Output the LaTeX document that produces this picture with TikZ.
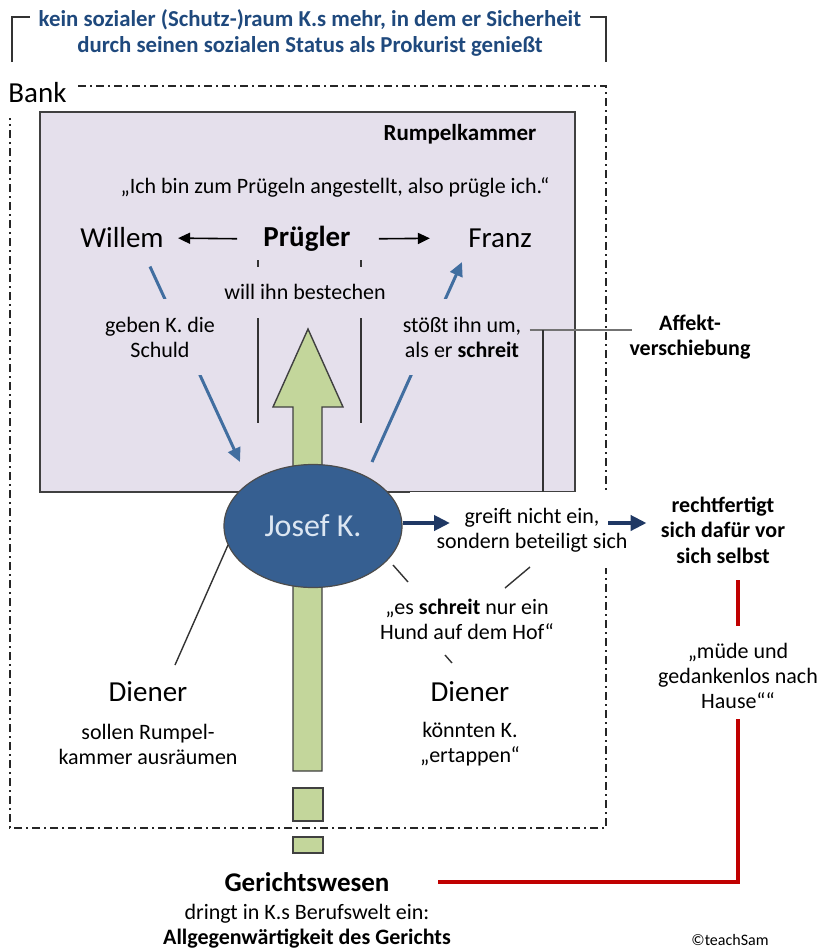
\documentclass[tikz,border=0pt]{standalone}
\usepackage{fontspec}
\setmainfont{Carlito}
\definecolor{titleblue}{RGB}{31, 73, 125}
\definecolor{lavbg}{RGB}{229, 224, 236}
\definecolor{arrowgreen}{RGB}{195, 214, 155}
\definecolor{kblue}{RGB}{54, 95, 145}
\definecolor{klight}{RGB}{220, 230, 242}
\definecolor{lineblue}{RGB}{65, 110, 160}
\definecolor{darkblue}{RGB}{31, 56, 100}
\definecolor{courtred}{RGB}{192, 0, 0}
\usetikzlibrary{arrows.meta, shapes.geometric, positioning}

\begin{document}
\begin{tikzpicture}[x=0.5pt, y=-0.5pt,
  txt/.style={font=\fontsize{11}{12.5}\selectfont, align=center, inner sep=1pt},
  txtb/.style={txt, font=\fontsize{11.5}{12.8}\selectfont\bfseries},
  big/.style={font=\fontsize{14.5}{17}\selectfont, inner sep=1pt},
  kline/.style={draw=black!80, line width=0.7pt},
  dashframe/.style={draw=black!85, line width=0.75pt, dash pattern=on 4pt off 2pt on 1pt off 2pt},
  bluearr/.style={draw=lineblue, line width=1.5pt, -{Triangle[length=7pt, width=6.5pt]}},
  blueline/.style={draw=lineblue, line width=1.5pt},
  darkarr/.style={draw=darkblue, line width=2pt, -{Triangle[length=8pt, width=7.5pt]}},
  blkarr/.style={draw=black, line width=0.8pt, -{Triangle[length=6pt, width=5.5pt]}},
  redline/.style={draw=courtred, line width=2pt},
  greenbox/.style={fill=arrowgreen, draw=black!75, line width=0.7pt}]
  \useasboundingbox (0,0) rectangle (824,949);

  % Bank frame
  \draw[dashframe] (78,86) -- (606,86) -- (606,828) -- (10,828) -- (10,118);
  \node[big, anchor=west] (bank) at (6,93) {Bank};

  % heading with bracket
  \draw[kline] (12,62) -- (12,17) -- (30,17);
  \draw[kline] (590,17) -- (606,17) -- (606,62);
  \node[font=\fontsize{11.4}{13}\selectfont\bfseries, align=center, text=titleblue] (title) at (310,33)
    {kein sozialer (Schutz-)raum K.s mehr, in dem er Sicherheit\\durch seinen sozialen Status als Prokurist genießt};

  % Rumpelkammer
  \filldraw[fill=lavbg, draw=black!75, line width=0.7pt] (40,112) rectangle (575,492);

  % green arrow from the court
  \filldraw[greenbox] (308,329) -- (343,407) -- (322,407) -- (322,771) -- (293,771) -- (293,407) -- (273,407) -- cycle;
  \filldraw[greenbox] (293,788) rectangle (323,821);
  \filldraw[greenbox] (293,837) rectangle (323,853);

  % bribe lines
  \draw[kline] (258,260) -- (258,267) (258,318) -- (258,423);
  \draw[kline] (361,260) -- (361,267) (361,318) -- (361,423);

  % white gap under the room
  \fill[white] (410,492) rectangle (612,568);

  \node[txtb] (rumpel) at (460,134) {Rumpelkammer};
  \node[txt] (quote) at (335,187) {„Ich bin zum Prügeln angestellt, also prügle ich.“};
  \node[big] (willem) at (122,238) {Willem};
  \node[big, font=\fontsize{14.5}{17}\selectfont\bfseries] (pruegler) at (307,239) {Prügler};
  \node[big] (franz) at (500,238) {Franz};
  \node[txt] (bestechen) at (305,292) {will ihn bestechen};

  \draw[blkarr, shorten <=12pt, shorten >=6pt] (pruegler.west) -- (willem.east);
  \draw[blkarr, shorten <=13pt, shorten >=18pt] (pruegler.east) -- (franz.west);

  \node[ellipse, fill=kblue, draw=black!70, line width=0.6pt, minimum width=89pt, minimum height=61.5pt,
        text=klight, font=\fontsize{16}{18}\selectfont] (josef) at (313,526) {Josef K.};

  \draw[bluearr] ([shift={(14pt,-8pt)}]willem.south) -- ([shift={(-36.5pt,32pt)}]josef.center);
  \draw[bluearr] ([shift={(29.5pt,32pt)}]josef.center) -- ([shift={(-19pt,-12pt)}]franz.center);
  \node[txt, fill=lavbg, inner ysep=9pt] (schuld) at (160,337) {geben K. die\\Schuld};
  \node[txt, fill=lavbg, inner ysep=9pt, inner xsep=2pt] (stoesst) at (462,337) {stößt ihn um,\\als er \textbf{schreit}};

  % Affektverschiebung
  \node[txtb, font=\fontsize{11}{12.5}\selectfont\bfseries] (affekt) at (690,337) {Affekt-\\verschiebung};
  \draw[draw=black!55, line width=1pt, shorten <=2pt, shorten >=-2.5pt] ([yshift=3.5pt]stoesst.east) -- ([yshift=3.5pt]affekt.west);
  \coordinate (a1) at (543,330);
  \draw[kline] (a1) -- ++(0,162);

  % reaction of K.
  \node[txt] (greift) at (532,530) {greift nicht ein,\\sondern beteiligt sich};
  \coordinate (g0) at (450,523);
  \coordinate (g1) at (608,523);
  \node[txtb, font=\fontsize{11}{12.8}\selectfont\bfseries] (recht) at (723,530) {rechtfertigt\\sich dafür vor\\sich selbst};
  \draw[darkarr] (josef.east |- g0) -- (g0);
  \draw[darkarr, shorten >=6pt] (g1) -- (recht.west |- g1);

  \node[txt] (hund) at (467,619) {„es \textbf{schreit} nur ein\\Hund auf dem Hof“};
  \draw[kline] ([shift={(40pt,-19.5pt)}]josef.center) -- ([shift={(-29.5pt,18.5pt)}]hund.center);
  \draw[kline] ([shift={(-1pt,-18.5pt)}]greift.center) -- ([shift={(19pt,15.5pt)}]hund.center);

  % servants
  \node[big] (dienerL) at (148,692) {Diener};
  \node[txt] (raeumen) at (148,744) {sollen Rumpel-\\kammer ausräumen};
  \node[big] (dienerR) at (470,692) {Diener};
  \node[txt] (ertappen) at (470,744) {könnten K.\\„ertappen“};
  \draw[kline] ([shift={(-42.5pt,-9.5pt)}]josef.center) -- ([shift={(13.5pt,13.5pt)}]dienerL.center);
  \draw[kline] ([shift={(-11pt,-18pt)}]hund.center) -- ([shift={(-9pt,14.5pt)}]dienerR.center);

  % court
  \node[txtb, font=\fontsize{13.5}{15}\selectfont\bfseries] (gericht) at (307,882) {Gerichtswesen};
  \node[txt] (dringt) at (307,926) {dringt in K.s Berufswelt ein:\\\textbf{Allgegenwärtigkeit des Gerichts}};
  \node[txt] (muede) at (738,676) {„müde und\\gedankenlos nach\\Hause““};
  \draw[redline, shorten <=7.5pt, shorten >=7pt] (muede.north) -- (muede.north |- recht.south);
  \draw[redline, shorten <=4pt, shorten >=23pt] (muede.south) |- (gericht.east);

  \node[font=\fontsize{8}{9}\selectfont] (copy) at (730,940) {©teachSam};
\end{tikzpicture}
\end{document}
